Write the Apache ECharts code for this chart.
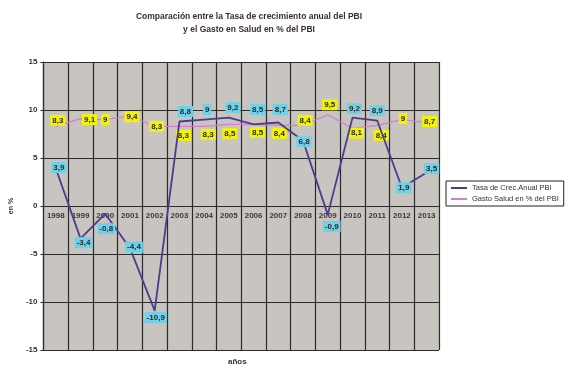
<!DOCTYPE html>
<html>
<head>
<meta charset="utf-8">
<script src="https://cdn.jsdelivr.net/npm/echarts@6/dist/echarts.min.js"></script>
<style>html,body{margin:0;padding:0;background:#fff}#c{width:570px;height:371px}</style>
</head>
<body>
<div id="c"></div>
<script>
const years = ['1998','1999','2000','2001','2002','2003','2004','2005','2006','2007','2008','2009','2010','2011','2012','2013'];
const tasaCrecimiento = [3.9, -3.4, -0.8, -4.4, -10.9, 8.8, 9, 9.2, 8.5, 8.7, 6.8, -0.9, 9.2, 8.9, 1.9, 3.5];
const gastoSalud = [8.3, 9.1, 9, 9.4, 8.3, 8.3, 8.3, 8.5, 8.5, 8.4, 8.4, 9.5, 8.1, 8.4, 9, 8.7];
const yTicks = [-15, -10, -5, 0, 5, 10, 15];
const seriesNames = ['Tasa de Crec.Anual PBI', 'Gasto Salud en % del PBI'];

// label placement (style only)
const tasaLabelOffset = [[3,-1],[3,4],[1,15],[4,-1],[1,7],[6,-10],[3,-10],[4,-10],[4,-15],[2,-13],[1,1],[4,12],[2,-9],[0,-10],[2,0],[5,-4]];
const gastoLabelOffset = [[2,-6],[9,1],[0,0],[2,1],[2,0],[4,9],[4,8],[1,9],[4,8],[1,8],[2,-5],[2,-10],[4,5],[4,10],[1,-1],[3,-1]];

const fmt = v => String(v).replace('.', ',');

function mkData(values, offsets, bg) {
  return values.map((v, i) => ({
    value: v,
    label: {
      show: true, position: 'inside', offset: offsets[i],
      formatter: fmt(v), backgroundColor: bg, color: '#2a2a2a',
      fontSize: 8, fontWeight: 'bold', fontFamily: 'Liberation Sans, Arial, sans-serif',
      padding: [2, 2, 1, 2]
    }
  }));
}

const chart = echarts.init(document.getElementById('c'), null, {renderer: 'canvas'});
chart.setOption({
  backgroundColor: '#ffffff',
  animation: false,
  title: {
    text: 'Comparación entre la Tasa de crecimiento anual del PBI\ny el Gasto en Salud en % del PBI',
    left: 244, top: 5, textAlign: 'center',
    textStyle: {fontSize: 8.5, fontWeight: 'bold', color: '#3a2e2e', lineHeight: 13,
      fontFamily: 'Liberation Sans, Arial, sans-serif'}
  },
  legend: {
    data: seriesNames, orient: 'vertical', left: 446, top: 181,
    borderColor: '#222', borderWidth: 1, padding: [3, 5, 3, 5], itemGap: 3,
    itemWidth: 16, itemHeight: 2, icon: 'rect', backgroundColor: '#fff',
    textStyle: {fontSize: 7.5, color: '#333', fontFamily: 'Liberation Sans, Arial, sans-serif'}
  },
  grid: {left: 37, top: 62, right: 131, bottom: 21, show: true, backgroundColor: '#c8c4c0', borderWidth: 0},
  xAxis: {
    type: 'category', data: years, boundaryGap: true,
    axisLine: {onZero: true, lineStyle: {color: '#2b2b2b', width: 1.2}},
    axisTick: {show: false},
    axisLabel: {fontSize: 8, fontWeight: 'bold', color: '#3a3a3a', margin: -138, interval: 0,
      fontFamily: 'Liberation Sans, Arial, sans-serif'},
    splitLine: {show: true, interval: 0, lineStyle: {color: '#2b2b2b', width: 1.2}}
  },
  yAxis: {
    type: 'value', min: -15, max: 15, interval: 5,
    name: 'en %', nameLocation: 'middle', nameGap: 27, nameRotate: 90,
    nameTextStyle: {fontSize: 7, fontWeight: 'bold', color: '#333', fontFamily: 'Liberation Sans, Arial, sans-serif'},
    axisLine: {show: true, lineStyle: {color: '#2b2b2b', width: 1.2}},
    axisTick: {show: true, length: 3, lineStyle: {color: '#2b2b2b'}},
    axisLabel: {fontSize: 8, fontWeight: 'bold', color: '#333', margin: 6,
      fontFamily: 'Liberation Sans, Arial, sans-serif',
      formatter: v => yTicks.includes(v) ? String(v) : ''},
    splitLine: {show: true, lineStyle: {color: '#2b2b2b', width: 1.2}}
  },
  graphic: [{
    type: 'text', left: 228, top: 358,
    style: {text: 'años', fontSize: 8, fontWeight: 'bold', fill: '#333', fontFamily: 'Liberation Sans, Arial, sans-serif'}
  }],
  series: [
    {
      name: seriesNames[1], type: 'line', data: mkData(gastoSalud, gastoLabelOffset, '#f2f20c'),
      symbol: 'circle', symbolSize: 1, showSymbol: true,
      lineStyle: {color: '#d47ccf', width: 1.2}, itemStyle: {color: '#d47ccf'}, z: 3
    },
    {
      name: seriesNames[0], type: 'line', data: mkData(tasaCrecimiento, tasaLabelOffset, '#6fd0e8'),
      symbol: 'circle', symbolSize: 1, showSymbol: true,
      lineStyle: {color: '#4d3b8e', width: 1.8}, itemStyle: {color: '#4d3b8e'}, z: 4
    }
  ]
});
</script>
</body>
</html>
